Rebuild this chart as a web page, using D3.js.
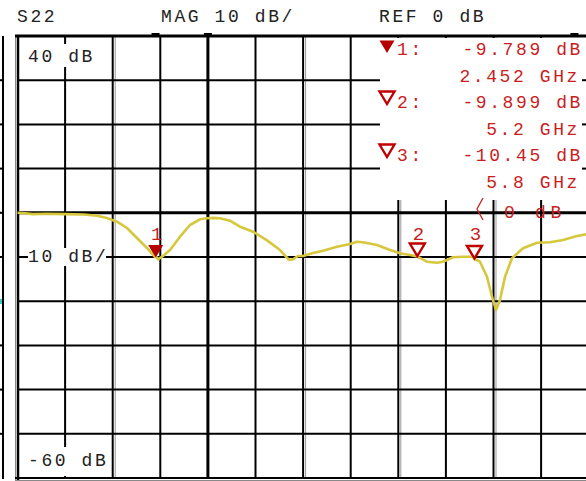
<!DOCTYPE html>
<html>
<head>
<meta charset="utf-8">
<script src="https://cdn.jsdelivr.net/npm/d3@7.9.0/dist/d3.min.js"></script>
<style>
  html, body { margin: 0; padding: 0; background: #fff; }
  svg text { font-family: "Liberation Mono", monospace; font-size: 18px; letter-spacing: 2.6px; }
</style>
</head>
<body>
<svg id="chart" width="586" height="481"></svg>
<script>
// S22 trace (frequency in GHz, magnitude in dB)
const freqGHz = [1.0, 1.08, 1.16, 1.3, 1.5, 1.7, 1.835, 1.94, 2.045, 2.15, 2.255, 2.36, 2.444, 2.452, 2.476,
  2.528, 2.602, 2.707, 2.812, 2.917, 2.991, 3.06, 3.127, 3.232, 3.337, 3.474, 3.621, 3.758, 3.842,
  3.862, 3.894, 3.947, 3.999, 4.104, 4.209, 4.356, 4.493, 4.566, 4.629, 4.776, 4.913, 5.018, 5.123,
  5.2, 5.301, 5.406, 5.469, 5.574, 5.679, 5.784, 5.8, 5.858, 5.932, 5.984, 6.026, 6.068, 6.121,
  6.194, 6.31, 6.457, 6.594, 6.73, 6.877, 7.0];
const magDB = [0.0, -0.1, -0.3, -0.2, -0.3, -0.4, -0.66, -1.18, -2.01, -3.44, -5.7, -7.96, -10.0, -9.789, -10.52,
  -9.77, -8.42, -5.41, -2.76, -1.47, -1.24, -1.15, -1.24, -1.79, -3.14, -4.28, -6.24, -8.42, -10.45,
  -10.68, -10.52, -9.77, -9.77, -9.1, -8.57, -7.67, -7.06, -6.54, -6.67, -7.29, -8.42, -9.16, -9.55,
  -9.899, -11.06, -11.29, -11.06, -10.07, -9.93, -9.93, -10.45, -11.06, -14.46, -18.98, -21.99, -19.73, -14.46,
  -10.29, -8.03, -6.76, -6.67, -6.15, -5.25, -4.75];

// markers
const markerIds = ["1", "2", "3"];
const markerFreq = [2.452, 5.2, 5.8];
const markerMag = [-9.789, -9.899, -10.45];
const markerMagLabel = ["-9.789 dB", "-9.899 dB", "-10.45 dB"];
const markerFreqLabel = ["2.452 GHz", "5.2 GHz", "5.8 GHz"];

// header and scale labels
const headerLabels = ["S22", "MAG 10 dB/", "REF 0 dB"];
const scaleLabelDB = [40, -10, -60];
const scaleLabelText = ["40 dB", "10 dB/", "-60 dB"];
const refLabel = "0 dB";

const red = "#c81e1e";
const adv = 13.4; // character cell width

const svg = d3.select("#chart");

const x = d3.scaleLinear().domain([1, 7]).range([17.5, 588.7]);
const y = d3.scaleLinear().domain([-60, 40]).range([478, 36]);

const vTicks = d3.range(1.5, 7.0, 0.5);
const hTicks = d3.range(-50, 40, 10);

// outer left strip
svg.append("line").attr("x1", 3).attr("x2", 3).attr("y1", 36).attr("y2", 479)
  .attr("stroke", "#000").attr("stroke-width", 2);
svg.selectAll(".ltick").data(hTicks).join("line")
  .attr("x1", 0).attr("x2", 4).attr("y1", d => y(d)).attr("y2", d => y(d))
  .attr("stroke", "#000").attr("stroke-width", 2);
svg.append("rect").attr("x", 0).attr("y", 299).attr("width", 2).attr("height", 5).attr("fill", "#3cc8c8");

// grid
const grid = svg.append("g");
grid.selectAll(".v").data(vTicks).join("line")
  .attr("x1", d => x(d)).attr("x2", d => x(d)).attr("y1", 36).attr("y2", 478)
  .attr("stroke", "#000").attr("stroke-width", d => d === 3 ? 3 : 2);
grid.selectAll(".vg").data(vTicks.filter(d => d === 2 || d === 4 || d === 5 || d === 6)).join("line")
  .attr("x1", d => x(d) + 2.5).attr("x2", d => x(d) + 2.5).attr("y1", 36).attr("y2", 478)
  .attr("stroke", "#999").attr("stroke-width", 1);
grid.selectAll(".h").data(hTicks).join("line")
  .attr("x1", 17).attr("x2", 586).attr("y1", d => y(d)).attr("y2", d => y(d))
  .attr("stroke", "#000").attr("stroke-width", d => d === 0 ? 3 : 2);

// frame
svg.append("line").attr("x1", 15.5).attr("x2", 15.5).attr("y1", 36).attr("y2", 481)
  .attr("stroke", "#888").attr("stroke-width", 1);
svg.append("line").attr("x1", 18).attr("x2", 18).attr("y1", 35).attr("y2", 481)
  .attr("stroke", "#000").attr("stroke-width", 2.5);
svg.append("line").attr("x1", 15).attr("x2", 586).attr("y1", 36).attr("y2", 36)
  .attr("stroke", "#000").attr("stroke-width", 3);
svg.append("line").attr("x1", 15).attr("x2", 586).attr("y1", 478).attr("y2", 478)
  .attr("stroke", "#000").attr("stroke-width", 2);
svg.append("line").attr("x1", 15).attr("x2", 586).attr("y1", 480.5).attr("y2", 480.5)
  .attr("stroke", "#888").attr("stroke-width", 1);
[x(2.45), x(3.0), x(6.85)].forEach(px => {
  svg.append("rect").attr("x", px - 4).attr("y", 33).attr("width", 8).attr("height", 3).attr("fill", "#000");
});

// white annotation area over the grid
svg.append("rect").attr("x", 380).attr("y", 38).attr("width", 206).attr("height", 162).attr("fill", "#fff");
[80.2, 124.4, 168.6].forEach(py => {
  svg.append("line").attr("x1", 582).attr("x2", 586).attr("y1", py).attr("y2", py)
    .attr("stroke", "#000").attr("stroke-width", 2);
});

// header
const headerX = [17, 161, 379];
svg.selectAll(".hdr").data(headerLabels).join("text")
  .attr("x", (d, i) => headerX[i]).attr("y", 22).attr("fill", "#222").text(d => d);

// scale labels with white boxes
const lbl = svg.selectAll(".lbl").data(scaleLabelDB).join("g");
lbl.append("rect")
  .attr("x", (d, i) => i === 1 ? 28 : 21)
  .attr("y", d => d === 40 ? 44 : d === -60 ? 447 : y(d) - 9)
  .attr("width", (d, i) => i === 1 ? 78 : 86)
  .attr("height", d => d === 40 ? 23 : d === -60 ? 29 : 18)
  .attr("fill", "#fff");
lbl.append("text")
  .attr("x", 28)
  .attr("y", d => d === 40 ? 62 : d === -60 ? 466 : y(d) + 5)
  .attr("fill", "#222")
  .text((d, i) => scaleLabelText[i]);

// trace
const pts = freqGHz.map((f, i) => [f, magDB[i]]);
svg.append("path")
  .datum(pts)
  .attr("fill", "none")
  .attr("stroke", "#d6c73c")
  .attr("stroke-width", 2.6)
  .attr("stroke-linejoin", "round")
  .attr("d", d3.line().x(d => x(d[0])).y(d => y(d[1])));

// markers on trace
const tri = (cx, cy) => `M${cx},${cy} L${cx - 7.5},${cy - 12.5} L${cx + 7.5},${cy - 12.5} Z`;
markerIds.forEach((id, i) => {
  const mx = x(markerFreq[i]), my = y(markerMag[i]);
  if (i === 0) {
    svg.append("path").attr("d", tri(mx, my + 1.5)).attr("fill", "#b40000");
  } else {
    svg.append("path").attr("d", tri(mx, my - 0.5)).attr("fill", "none")
      .attr("stroke", "#c00000").attr("stroke-width", 2.4);
  }
  svg.append("text").attr("x", mx + 1).attr("y", 240).attr("text-anchor", "middle")
    .attr("fill", red).style("letter-spacing", "0px").style("font-size", "19px").text(id);
});

// marker readout
const rowY = [55, 81.5, 108, 134.5, 161, 187.5];
markerIds.forEach((id, i) => {
  const ry = rowY[i * 2];
  if (i === 0) {
    svg.append("path").attr("d", tri(387, ry - 2)).attr("fill", "#b40000");
  } else {
    svg.append("path").attr("d", tri(387, ry - 4)).attr("fill", "none")
      .attr("stroke", "#c00000").attr("stroke-width", 2.4);
  }
  svg.append("text").attr("x", 397).attr("y", ry).attr("fill", red).text(id + ":");
  svg.append("text").attr("x", 583 - markerMagLabel[i].length * adv).attr("y", ry)
    .attr("fill", red).text(markerMagLabel[i]);
  svg.append("text").attr("x", 580 - markerFreqLabel[i].length * adv).attr("y", rowY[i * 2 + 1])
    .attr("fill", red).text(markerFreqLabel[i]);
});

// reference position indicator
svg.append("path").attr("d", "M483,198 L477,209 L483,220").attr("fill", "none")
  .attr("stroke", red).attr("stroke-width", 1.3);
svg.append("text").attr("x", 504).attr("y", 218).attr("fill", red)
  .style("letter-spacing", "4.7px").text(refLabel);
</script>
</body>
</html>
